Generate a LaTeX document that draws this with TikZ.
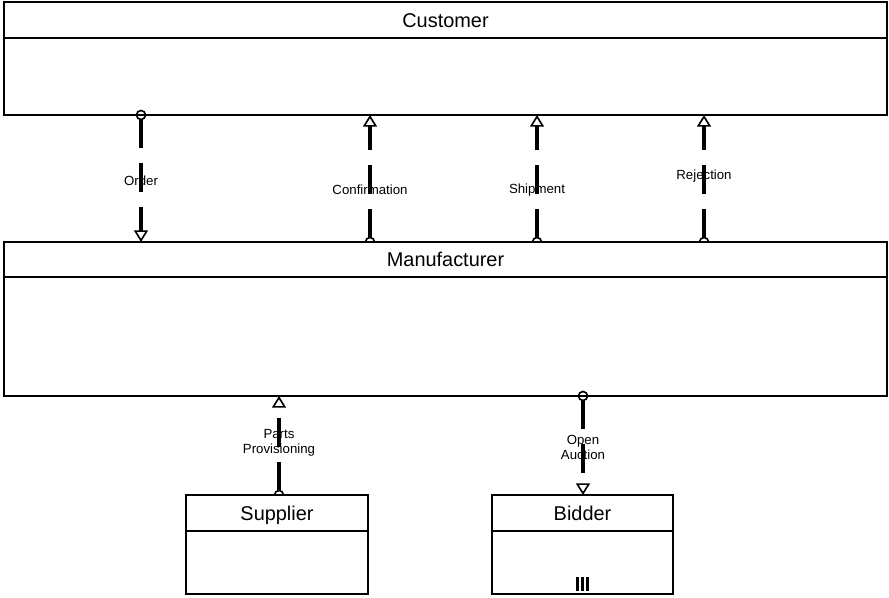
\documentclass[tikz,border=0pt]{standalone}
\usepackage{fontspec}
\setmainfont{Liberation Sans}
\usetikzlibrary{arrows.meta,fit,calc}
\begin{document}
\begin{tikzpicture}[x=0.3mm,y=-0.3mm,
  box/.style={draw,line width=1.9pt,inner sep=0pt,outer sep=0pt},
  title/.style={font=\fontsize{17}{19}\selectfont,inner sep=0pt,text height=13pt,text depth=0.8pt},
  lbl/.style={font=\fontsize{11.3}{12.8}\selectfont,align=center,inner sep=0pt},
  msg/.style={line width=2.8pt,dash pattern=on 25pt off 12.5pt,shorten <=1.2mm},
  tip/.style={-{Triangle[open,length=10pt,width=12pt,line width=1.4pt]}},
  ends/.style={line width=1.4pt}]
  \useasboundingbox (0,0) rectangle (889,597);

  % 角色框
  \node[box,fit={(4,2) (887,115)}] (cust) {};
  \node[box,fit={(4,2) (887,38)}] (custT) {};
  \node[title] at (custT) {Customer};
  \node[box,fit={(4,242) (887,396)}] (man) {};
  \node[box,fit={(4,242) (887,277)}] (manT) {};
  \node[title] at (manT) {Manufacturer};
  \node[box,fit={(186,495) (368,594)}] (sup) {};
  \node[box,fit={(186,495) (368,531)}] (supT) {};
  \node[title] at (supT) {Supplier};
  \node[box,fit={(492,495) (673,594)}] (bid) {};
  \node[box,fit={(492,495) (673,531)}] (bidT) {};
  \node[title] at (bidT) {Bidder};

  % 消息标签
  \node[lbl] (lOrd) at (141,181) {Order};
  \node[lbl] (lConf) at (370,190) {Confirmation};
  \node[lbl] (lShip) at (537,190) {Shipment};
  \node[lbl] (lRej) at (704,176) {Rejection};
  \node[lbl] (lParts) at (279,443) {Parts\\Provisioning};
  \node[lbl] (lAuct) at (583,447) {Open\\Auction};

  % 消息连线
  \draw[msg,tip] (cust.south -| lOrd) -- (man.north -| lOrd);
  \draw[msg,tip] (man.north -| lConf) -- (cust.south -| lConf);
  \draw[msg,tip] (man.north -| lShip) -- (cust.south -| lShip);
  \draw[msg,tip] (man.north -| lRej) -- (cust.south -| lRej);
  \draw[msg,tip] (sup.north -| lParts) -- (man.south -| lParts);
  \draw[msg,tip] (man.south -| lAuct) -- (bid.north -| lAuct);

  % 起点圆
  \draw[ends] (cust.south -| lOrd) circle (4.5);
  \draw[ends] (man.south -| lAuct) circle (4.5);
  \foreach \n in {lConf,lShip,lRej}
    \draw[ends] ($(man.north -| \n)+(-4.5,0)$) arc (-180:0:4.5);
  \draw[ends] ($(sup.north -| lParts)+(-4.5,0)$) arc (-180:0:4.5);

  % 多重标记
  \foreach \dx in {-5,0,5}
    \draw[line width=3.2pt] ($(bid.south)+(\dx,-3)$) -- ++(0,-14);
\end{tikzpicture}
\end{document}
